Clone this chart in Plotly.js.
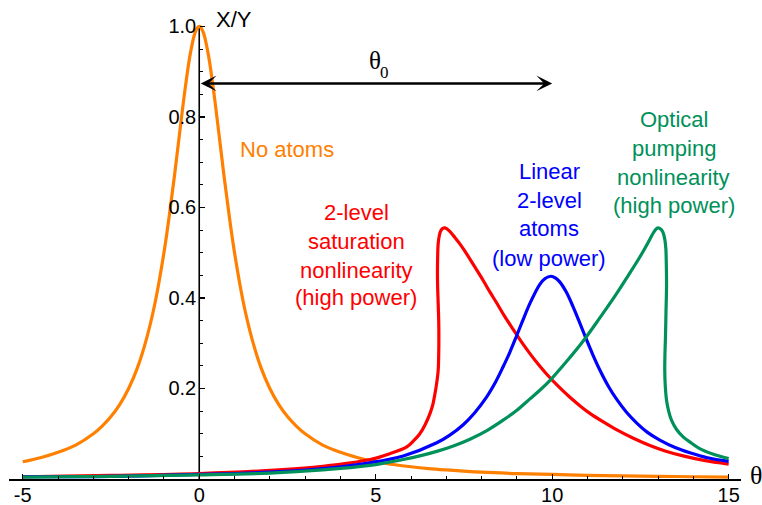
<!DOCTYPE html>
<html>
<head>
<meta charset="utf-8">
<script src="https://cdn.plot.ly/plotly-3.0.1.min.js"></script>
<style>html,body{margin:0;padding:0;background:#fff;}#chart{width:762px;height:505px;}</style>
</head>
<body>
<div id="chart"></div>
<script>
// ---- data ----
const orangeX = [-5,-4.5,-4,-3.5,-3,-2.75,-2.5,-2.25,-2,-1.75,-1.5,-1.25,-1,-0.85,-0.7,-0.55,-0.4,-0.25,-0.1,0,0.1,0.25,0.4,0.55,0.7,0.85,1,1.25,1.5,1.75,2,2.25,2.5,2.75,3,3.5,4,4.5,5,5.5,6,6.5,7,8,9,10,11,12,13,14,15];
const orangeY = [0.038,0.047,0.059,0.075,0.100,0.117,0.138,0.165,0.200,0.246,0.308,0.390,0.500,0.581,0.671,0.768,0.862,0.941,0.990,1.000,0.990,0.941,0.862,0.768,0.671,0.581,0.500,0.390,0.308,0.246,0.200,0.165,0.138,0.117,0.100,0.075,0.059,0.047,0.038,0.032,0.027,0.023,0.020,0.015,0.012,0.010,0.008,0.007,0.006,0.005,0.004];

const redX = [-5,-2.5,0,2,3.5,4.84,5.40,5.88,6.07,6.25,6.40,6.54,6.62,6.68,6.73,6.77,6.785,6.79,6.785,6.77,6.755,6.75,6.77,6.80,6.84,6.90,6.96,7.03,7.10,7.24,7.39,7.53,7.67,7.86,8.05,8.23,8.42,8.65,8.90,9.13,9.37,9.60,9.84,10.17,10.51,10.80,11.07,11.45,11.82,12.30,12.77,13.20,13.71,14.30,15];
const redY = [0.005,0.008,0.012,0.019,0.028,0.043,0.056,0.071,0.084,0.100,0.120,0.145,0.165,0.189,0.213,0.240,0.275,0.314,0.350,0.388,0.425,0.461,0.520,0.537,0.548,0.554,0.555,0.552,0.547,0.534,0.519,0.503,0.486,0.462,0.438,0.414,0.390,0.360,0.330,0.303,0.277,0.254,0.232,0.205,0.180,0.161,0.145,0.126,0.109,0.090,0.074,0.062,0.051,0.041,0.033];

const blueX = [-5,-2.5,0,2,3.5,4.84,5.78,6.73,7.10,7.48,7.80,8.14,8.40,8.61,8.80,8.99,9.15,9.37,9.65,9.80,9.96,10.10,10.22,10.40,10.59,10.75,10.93,11.15,11.35,11.60,11.82,12.10,12.39,12.70,13.05,13.50,13.90,14.40,15];
const blueY = [0.005,0.006,0.010,0.015,0.023,0.036,0.051,0.080,0.097,0.120,0.146,0.181,0.215,0.248,0.280,0.316,0.347,0.388,0.430,0.443,0.448,0.444,0.435,0.413,0.381,0.351,0.316,0.275,0.241,0.204,0.177,0.148,0.124,0.103,0.086,0.069,0.058,0.047,0.039];

const greenX = [-5,-2.5,0,2,3.5,4.84,5.30,5.78,6.25,6.73,7.20,7.67,8.15,8.61,9.00,9.37,9.65,9.94,10.40,10.88,11.35,11.82,12.15,12.48,12.70,12.86,12.93,13.00,13.08,13.14,13.19,13.22,13.235,13.24,13.225,13.21,13.195,13.19,13.205,13.24,13.30,13.38,13.52,13.71,13.95,14.18,14.55,15];
const greenY = [0.004,0.006,0.009,0.013,0.020,0.030,0.036,0.043,0.051,0.061,0.073,0.088,0.107,0.130,0.152,0.177,0.196,0.218,0.259,0.305,0.356,0.409,0.449,0.490,0.520,0.543,0.551,0.555,0.552,0.545,0.530,0.510,0.470,0.425,0.370,0.314,0.275,0.240,0.205,0.174,0.150,0.130,0.110,0.093,0.079,0.067,0.055,0.045];

const xTickVals = [-5,0,5,10,15];
const xTickText = ['-5','0','5','10','15'];
const yTickVals = [0.2,0.4,0.6,0.8,1.0];
const yTickText = ['0.2','0.4','0.6','0.8','1.0'];

// ---- styles ----
const ORANGE = '#FF8000', RED = '#FF0000', BLUE = '#0000FF', GREEN = 'rgb(0,145,90)';
const SANS = 'Liberation Sans, Arial, sans-serif';
const SERIF = 'Liberation Serif, Times New Roman, serif';
const LW = 3.2;

function tr(x, y, c) {
  return {x: x, y: y, type: 'scatter', mode: 'lines', hoverinfo: 'skip',
          line: {color: c, width: LW, shape: 'spline', smoothing: 1}};
}
const data = [tr(orangeX, orangeY, ORANGE), tr(redX, redY, RED), tr(blueX, blueY, BLUE), tr(greenX, greenY, GREEN)];

const X0 = -5.39, X1 = 15.35;
function txt(s, x, y, c, size, fam, ref) {
  return {text: s, x: x, y: y, xref: ref ? 'paper' : 'x', yref: ref ? 'paper' : 'y', showarrow: false,
          xanchor: 'center', yanchor: 'middle',
          font: {family: fam || SANS, size: size || 22, color: c}};
}
const annotations = [
  txt('No atoms', 2.49, 0.727, ORANGE),
  txt('2-level', 4.45, 0.588, RED),
  txt('saturation', 4.45, 0.524, RED),
  txt('nonlinearity', 4.45, 0.461, RED),
  txt('(high power)', 4.45, 0.400, RED),
  txt('Linear', 9.91, 0.679, BLUE),
  txt('2-level', 9.91, 0.616, BLUE),
  txt('atoms', 9.91, 0.554, BLUE),
  txt('(low power)', 9.91, 0.488, BLUE),
  txt('Optical', 13.44, 0.794, GREEN),
  txt('pumping', 13.44, 0.731, GREEN),
  txt('nonlinearity', 13.44, 0.667, GREEN),
  txt('(high power)', 13.44, 0.605, GREEN),
  txt('X/Y', 0.308, 1.004, 'black', 22, SANS, true),
  txt('θ', 1.0205, 0.008, 'black', 26, SERIF, true),
  txt('θ', 4.98, 0.9255, 'black', 25, SERIF),
  txt('0', 5.24, 0.898, 'black', 17, SERIF),
  {x: 10, y: 0.874, ax: 0, ay: 0.874, xref: 'x', yref: 'y', axref: 'x', ayref: 'y',
   text: '', showarrow: true, arrowside: 'end+start', arrowhead: 3, startarrowhead: 3,
   arrowsize: 1.1, startarrowsize: 1.1, arrowwidth: 2.4, arrowcolor: 'black'}
];

const layout = {
  width: 762, height: 505,
  margin: {l: 9, r: 21, t: 21, b: 26, pad: 0},
  paper_bgcolor: '#fff', plot_bgcolor: '#fff',
  showlegend: false,
  xaxis: {
    range: [X0, X1], showgrid: false, zeroline: false,
    showline: true, linecolor: 'black', linewidth: 1.6,
    ticks: 'inside', ticklen: 5, tickwidth: 1.3, tickcolor: 'black',
    tickmode: 'array', tickvals: xTickVals, ticktext: xTickText,
    ticklabelstandoff: -3,
    tickfont: {family: SANS, size: 20, color: 'black'},
    minor: {tickmode: 'linear', tick0: 0, dtick: 1, ticks: 'inside', ticklen: 3, tickwidth: 1, tickcolor: 'black'}
  },
  yaxis: {
    range: [0, 1.012], showgrid: false, zeroline: false, showline: false,
    anchor: 'free', position: (0 - X0) / (X1 - X0),
    ticks: 'inside', ticklen: 5, tickwidth: 1.3, tickcolor: 'black',
    tickmode: 'array', tickvals: yTickVals, ticktext: yTickText,
    ticklabelstandoff: 3,
    tickfont: {family: SANS, size: 20, color: 'black'},
    minor: {tickmode: 'linear', tick0: 0, dtick: 0.05, ticks: 'inside', ticklen: 3, tickwidth: 1, tickcolor: 'black'}
  },
  shapes: [
    {type: 'line', xref: 'x', yref: 'y', x0: 0, x1: 0, y0: 0, y1: 1.0, layer: 'below',
     line: {color: 'black', width: 1.6}}
  ],
  annotations: annotations
};

Plotly.newPlot('chart', data, layout, {staticPlot: true, displayModeBar: false});
</script>
</body>
</html>
